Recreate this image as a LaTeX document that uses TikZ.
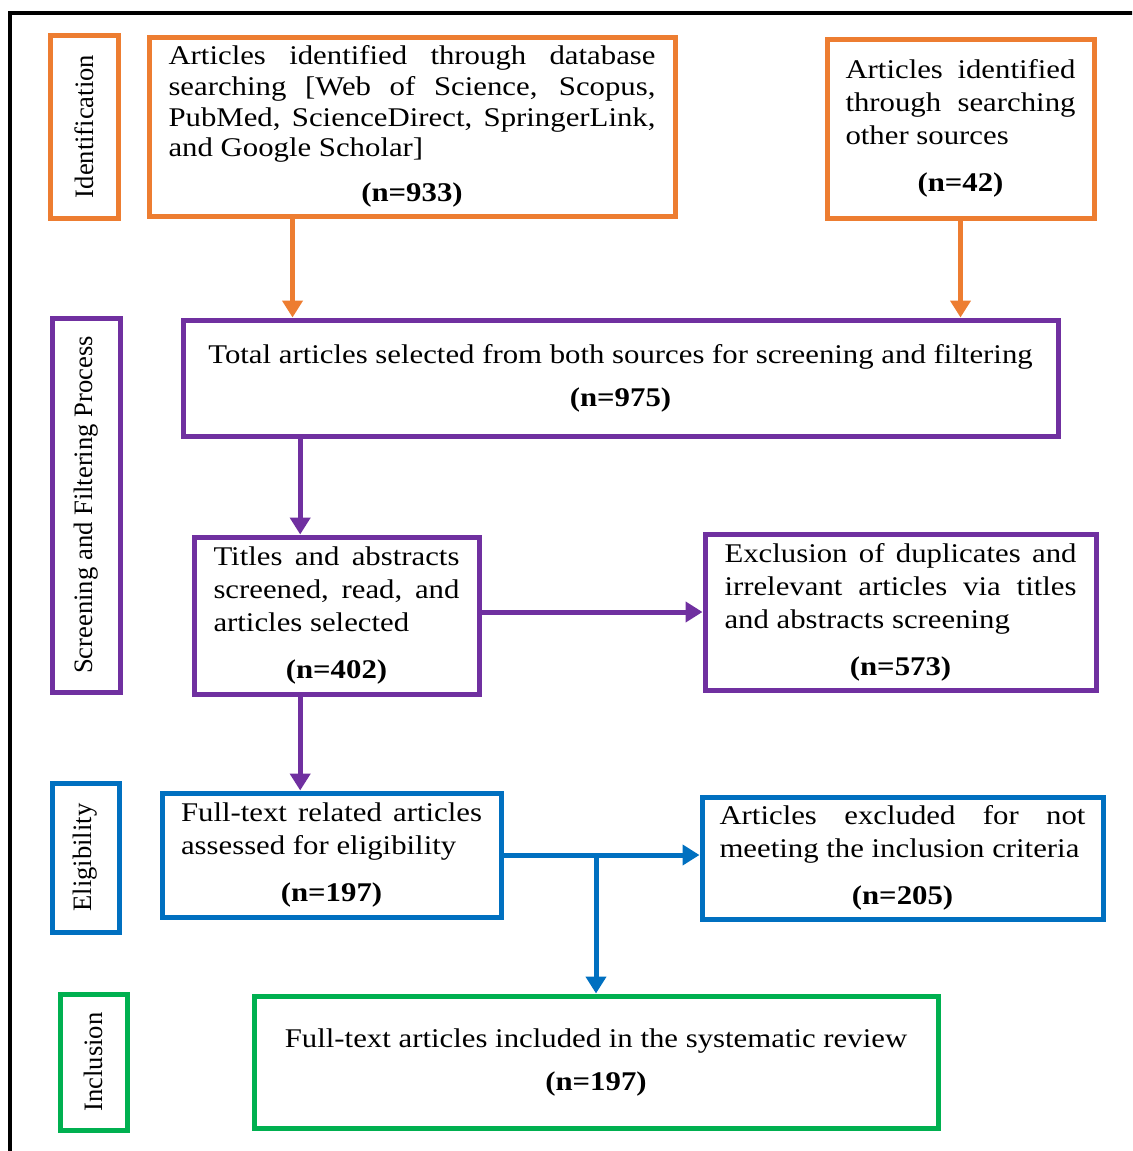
\documentclass[tikz,border=0pt]{standalone}
\usepackage{fontspec}
\setmainfont[FakeStretch=1.14]{Liberation Serif}
\newfontfamily\labfont{Liberation Serif}
\usepackage{tikz}
\usetikzlibrary{arrows.meta}
\usetikzlibrary{calc}

\definecolor{idcol}{HTML}{ED7D31}
\definecolor{sccol}{HTML}{7030A0}
\definecolor{elcol}{HTML}{0070C0}
\definecolor{incol}{HTML}{00B050}

\newcommand{\cnt}[1]{\par\vspace{7pt}{\centering\textbf{(n=#1)}\par}}

\begin{document}
\begin{tikzpicture}[x=0.5pt, y=-0.5pt,
  main/.style = {draw, line width=2.5pt, inner sep=0pt, align=justify, font=\fontsize{13.5}{16.5}\selectfont},
  lab/.style = {draw, line width=2.5pt, rotate=90, inner sep=0pt, font=\labfont\fontsize{13.3}{15}\selectfont},
  arr/.style = {line width=2.5pt, -{Triangle[length=8.5pt, width=10pt]}}]
\clip (0,0) rectangle (1132,1151);
\draw[line width=1.8pt] (10,1170) -- (10,13) -- (1150,13);

% stage labels
\node[lab, idcol, text=black, minimum width=91.5pt, minimum height=34pt] (idl) at (84,126.5) {Identification};
\node[lab, sccol, text=black, minimum width=187pt, minimum height=34pt] (scl) at (86,505) {Screening and Filtering Process};
\node[lab, elcol, text=black, minimum width=74.5pt, minimum height=33.5pt] (ell) at (85.5,857.5) {Eligibility};
\node[lab, incol, text=black, minimum width=68pt, minimum height=33.5pt] (inl) at (93.5,1062) {Inclusion};

% boxes
\node[main, idcol, text=black, minimum width=263pt, minimum height=89.5pt, text width=243.5pt,
  font=\fontsize{13.5}{15.3}\selectfont] (dbs) at (412,126.5)
  {Articles identified through database\linebreak searching [Web of Science, Scopus,\linebreak PubMed, ScienceDirect, SpringerLink,\linebreak and Google Scholar]\cnt{933}};
\node[main, idcol, text=black, minimum width=133.5pt, minimum height=89.5pt, text width=115pt] (oth) at (960.5,128.5)
  {Articles identified\linebreak through searching\linebreak other sources\cnt{42}};
\node[main, sccol, text=black, minimum width=437.5pt, minimum height=58pt, align=center] (tot) at (620.5,378)
  {Total articles selected from both sources for screening and filtering\\[5pt] \textbf{(n=975)}};
\node[main, sccol, text=black, minimum width=142.5pt, minimum height=78.5pt, text width=123pt] (tas) at (336.5,615.5)
  {Titles and abstracts\linebreak screened, read, and\linebreak articles selected\cnt{402}};
\node[main, sccol, text=black, minimum width=195.5pt, minimum height=78pt, text width=176pt] (exd) at (900.5,612)
  {Exclusion of duplicates and\linebreak irrelevant articles via titles\linebreak and abstracts screening\cnt{573}};
\node[main, elcol, text=black, minimum width=169.5pt, minimum height=62pt, text width=150.5pt] (ful) at (331.5,855)
  {Full-text related articles\linebreak assessed for eligibility\cnt{197}};
\node[main, elcol, text=black, minimum width=200.5pt, minimum height=61pt, text width=183pt] (exc) at (902.5,858)
  {Articles excluded for not\linebreak meeting the inclusion criteria\cnt{205}};
\node[main, incol, text=black, minimum width=342pt, minimum height=66pt, align=center] (inc) at (596,1062)
  {Full-text articles included in the systematic review\\[5pt] \textbf{(n=197)}};

% connectors
\draw[arr, idcol] ($(dbs.south west)!0.275!(dbs.south east)$) coordinate (p1) -- (p1 |- tot.north);
\draw[arr, idcol] (oth.south) -- (oth.south |- tot.north);
\draw[arr, sccol] ($(tot.south west)!0.136!(tot.south east)$) coordinate (p2) -- (p2 |- tas.north);
\draw[arr, sccol] (exd.west -| tas.east) -- (exd.west);
\draw[arr, sccol] (p2 |- tas.south) -- (p2 |- ful.north);
\draw[arr, elcol] (ful.east) -- (ful.east -| exc.west);
\draw[arr, elcol] (inc.north |- ful.east) -- (inc.north);

\end{tikzpicture}
\end{document}
